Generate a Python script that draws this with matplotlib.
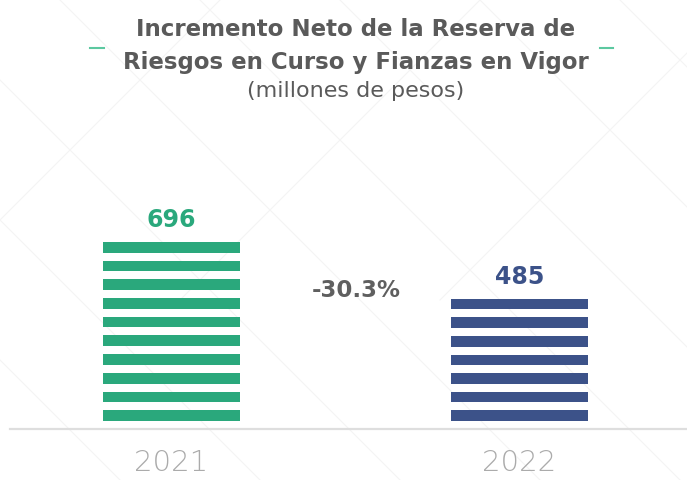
import matplotlib
matplotlib.use("Agg")
import matplotlib.pyplot as plt
from matplotlib.lines import Line2D

# ---- data ----
categories = ["2021", "2022"]
values = [696, 485]
bar_colors = ["#2AA87C", "#3C5289"]
change_label = "-30.3%"
title_lines = ["Incremento Neto de la Reserva de", "Riesgos en Curso y Fianzas en Vigor"]
subtitle = "(millones de pesos)"

W, H = 687, 480
fig = plt.figure(figsize=(W / 100, H / 100), dpi=100)
fig.patch.set_facecolor("white")

def fx(px):
    return px / W

def fy(py):
    return 1 - py / H

# faint diagonal background pattern
bg = "#f4f4f4"
for x0 in range(-500, 1200, 140):
    fig.add_artist(Line2D([fx(x0), fx(x0 + 480)], [fy(0), fy(480)], color=bg, lw=0.8, zorder=0))
for x0 in range(-300, 1000, 260):
    fig.add_artist(Line2D([fx(x0), fx(x0 - 300)], [fy(0), fy(300)], color=bg, lw=0.8, zorder=0))

ax = fig.add_axes([0, 0, 1, 1])
ax.set_facecolor("none")
ax.set_xlim(-171.5 / 348, 515.5 / 348)
ax.set_ylim(-190, 1597)
ax.axis("off")

# striped bars
stripe_unit = 69.5
fill_frac = 0.57
bar_w = 137 / 348
xs = list(range(len(categories)))
for x, v, c in zip(xs, values, bar_colors):
    n = max(1, round(v / stripe_unit))
    h = v / n
    bottoms = [i * h + (1 - fill_frac) * h for i in range(n)]
    ax.bar([x] * n, [fill_frac * h] * n, bottom=bottoms, width=bar_w, color=c, zorder=3)

# baseline
ax.axhline(0, xmin=10 / W, xmax=1, color="#dedede", lw=1.6, zorder=2)

font = "DejaVu Sans"
# value labels
for x, v, c in zip(xs, values, bar_colors):
    ax.annotate(f"{v}", (x, v), xytext=(0, 15), textcoords="offset pixels",
                ha="center", va="baseline", fontsize=17, fontweight="bold",
                color=c, family=font)

# change label
ax.text(0.53, 490, change_label, ha="center", va="baseline", fontsize=16.5,
        fontweight="bold", color="#5f5f5f", family=font)

# year labels
for x, cat in zip(xs, categories):
    ax.text(x, -158, cat, ha="center", va="baseline", fontsize=21,
            color="#ababab", family=font, fontweight="light")

# title
fig.text(fx(356), fy(36), title_lines[0], ha="center", va="baseline",
         fontsize=16.5, fontweight="bold", color="#5a5a5a", family=font)
fig.text(fx(356), fy(69), title_lines[1], ha="center", va="baseline",
         fontsize=16.5, fontweight="bold", color="#5a5a5a", family=font)
fig.text(fx(356), fy(97), subtitle, ha="center", va="baseline",
         fontsize=16, color="#5a5a5a", family=font)

# green dashes beside title
for a, b in [(90, 104), (600, 613)]:
    fig.add_artist(Line2D([fx(a), fx(b)], [fy(47.5), fy(47.5)], color="#5cc8a0", lw=1.5))

fig.savefig("out.png", dpi=100, facecolor="white")
